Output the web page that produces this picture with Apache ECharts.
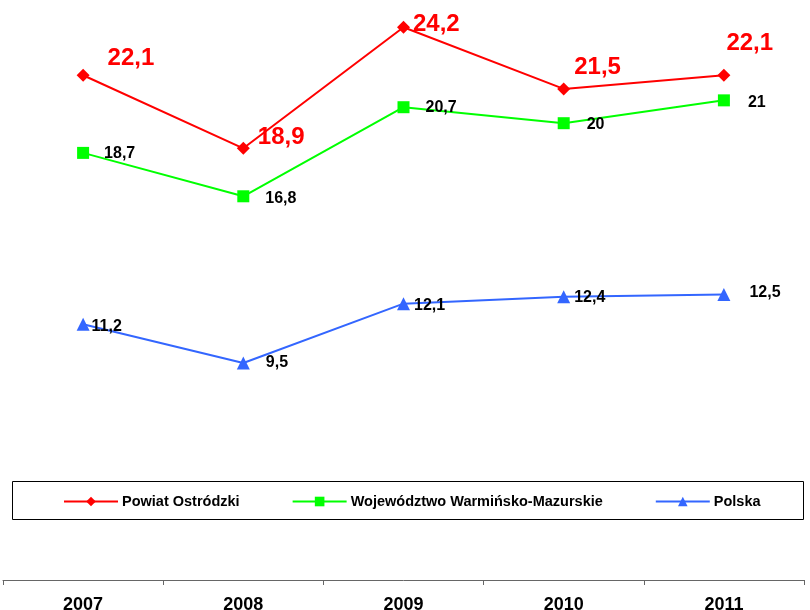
<!DOCTYPE html>
<html>
<head>
<meta charset="utf-8">
<script src="https://cdn.jsdelivr.net/npm/echarts@6/dist/echarts.min.js"></script>
<style>
  html, body { margin: 0; padding: 0; background: #fff; }
  #chart { width: 810px; height: 610px; }
</style>
</head>
<body>
<div id="chart"></div>
<script>
const years = ['2007', '2008', '2009', '2010', '2011'];
const powiat = [22.1, 18.9, 24.2, 21.5, 22.1];
const wojewodztwo = [18.7, 16.8, 20.7, 20, 21];
const polska = [11.2, 9.5, 12.1, 12.4, 12.5];
const seriesNames = ['Powiat Ostródzki', 'Województwo Warmińsko-Mazurskie', 'Polska'];

// label offsets [dx, dy] from the marker edge, hand-placed like in the original
const powiatOffsets = [[18, -17], [8, -11], [3, -3], [4, -22], [-4, -32]];
const wojOffsets = [[15, 1], [16, 2], [16, 0], [17, 1], [18, 2]];
const polskaOffsets = [[2, 2], [16, 0], [4, 2], [4, 1], [19, -2]];

const fmt = v => String(v).replace('.', ',');

function withLabels(values, offsets) {
  return values.map((v, i) => ({
    value: v,
    label: { offset: offsets[i] }
  }));
}

const chart = echarts.init(document.getElementById('chart'));
chart.setOption({
  animation: false,
  textStyle: { fontFamily: 'Liberation Sans, Arial, sans-serif' },
  grid: { left: 3, right: 6, top: 9, bottom: 30, containLabel: false, outerBoundsMode: 'none' },
  graphic: [{
    type: 'rect',
    shape: { x: 12.5, y: 481.5, width: 791, height: 38 },
    style: { fill: 'none', stroke: '#000', lineWidth: 1 },
    z: 0
  }],
  legend: {
    left: 63,
    top: 494,
    padding: 0,
    itemWidth: 54,
    itemHeight: 12,
    itemGap: 52,
    textStyle: { color: '#000', fontWeight: 'bold', fontSize: 14.5, padding: [0, 0, 0, -1] },
    data: seriesNames
  },
  xAxis: {
    type: 'category',
    data: years,
    boundaryGap: true,
    axisLine: { lineStyle: { color: '#666', width: 1 } },
    axisTick: { show: true, length: 5, inside: false, lineStyle: { color: '#666' } },
    axisLabel: { color: '#000', fontWeight: 'bold', fontSize: 18, margin: 16 }
  },
  yAxis: {
    type: 'value',
    min: 0,
    max: 25,
    show: false,
    splitLine: { show: false }
  },
  series: [
    {
      name: seriesNames[0],
      type: 'line',
      data: withLabels(powiat, powiatOffsets),
      symbol: 'diamond',
      symbolSize: 13,
      lineStyle: { color: '#ff0000', width: 2 },
      itemStyle: { color: '#ff0000' },
      label: {
        show: true,
        position: 'right',
        distance: 0,
        color: '#ff0000',
        fontWeight: 'bold',
        fontSize: 24,
        formatter: p => fmt(p.value)
      }
    },
    {
      name: seriesNames[1],
      type: 'line',
      data: withLabels(wojewodztwo, wojOffsets),
      symbol: 'rect',
      symbolSize: 12,
      lineStyle: { color: '#00ff00', width: 2 },
      itemStyle: { color: '#00ff00' },
      label: {
        show: true,
        position: 'right',
        distance: 0,
        color: '#000',
        fontWeight: 'bold',
        fontSize: 16,
        formatter: p => fmt(p.value)
      }
    },
    {
      name: seriesNames[2],
      type: 'line',
      data: withLabels(polska, polskaOffsets),
      symbol: 'triangle',
      symbolSize: 13,
      lineStyle: { color: '#3366ff', width: 2 },
      itemStyle: { color: '#3366ff' },
      label: {
        show: true,
        position: 'right',
        distance: 0,
        color: '#000',
        fontWeight: 'bold',
        fontSize: 16,
        formatter: p => fmt(p.value)
      }
    }
  ]
});
</script>
</body>
</html>
